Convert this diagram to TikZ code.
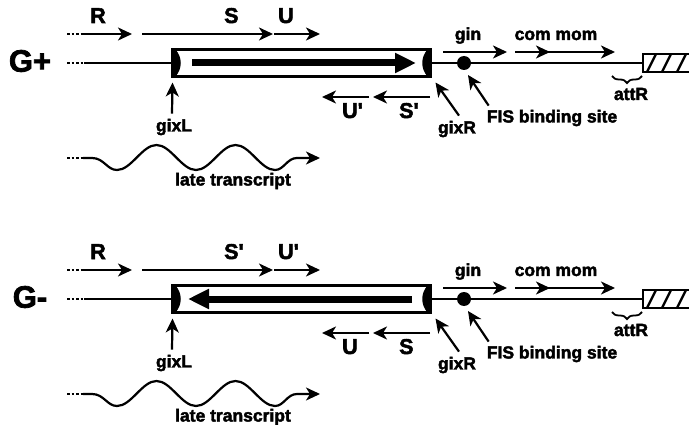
\documentclass[tikz,border=0pt]{standalone}
\usepackage{fontspec}
\setmainfont{Liberation Sans}[BoldFeatures={FakeBold=2.4}]
\usetikzlibrary{arrows.meta,decorations.pathreplacing}

\tikzset{
  tip/.tip={Stealth[length=14pt,width=13pt,inset=4pt]},
  dna/.style={line width=2.8pt},
  dnadots/.style={line width=2.8pt, dash pattern=on 2.5pt off 2pt},
  orf/.style={line width=2.2pt, -tip},
  orfdots/.style={line width=2.2pt, dash pattern=on 2.5pt off 2pt},
  pointer/.style={line width=2.2pt, -tip},
  txt/.style={font=\bfseries\fontsize{17.5}{20}\selectfont, inner sep=0pt},
  seglabel/.style={font=\bfseries\fontsize{21.5}{22}\selectfont, inner sep=0pt},
  formlabel/.style={font=\bfseries\fontsize{31}{32}\selectfont, inner sep=0pt},
  invbox/.style={draw, line width=2.3pt, minimum width=258pt, minimum height=27pt,
                 inner sep=0pt, outer sep=0pt},
  bigarrow/.style={line width=7pt, -{Triangle[length=21pt,width=19pt]}},
  wave/.style={line width=2.2pt},
  fisdot/.style={circle, fill, minimum size=14pt, inner sep=0pt, outer sep=0pt},
}

% one orientation of the G segment
% #1 form, #2 #3 upper segment labels, #4 #5 lower segment labels,
% #6 tail x and #7 head x of the inverted-segment arrow
\newcommand\gsegmentmap[7]{%
  \node[formlabel] (form) at (30,61) {#1};
  % backbone
  \node[invbox] (box) at (301.5,63) {};
  \node[fisdot] (fis) at (464,63) {};
  \coordinate (dotsL) at (67,63);
  \coordinate (solidL) at (84,63);
  \coordinate (hatchL) at (643,63);
  \coordinate (hatchNW) at (643,54);
  \coordinate (hatchSW) at (643,72);
  \draw[dnadots] (dotsL) -- (solidL);
  \draw[dna] (solidL) -- (box.west);
  \draw[dna] (box.east) -- (hatchL);
  % hatched prophage end
  \draw[line width=2.3pt] (690,54) -- (hatchNW) -- (hatchSW) -- (690,72);
  \draw[line width=2.3pt] (647,72) -- (656,54) (662,72) -- (671,54) (677,72) -- (686,54);
  % gix crossover sites at both ends of the invertible segment
  \fill (box.north west) -- ([xshift=3pt]box.north west)
     .. controls ([xshift=10pt,yshift=-8pt]box.north west) and ([xshift=10pt,yshift=8pt]box.south west)
     .. ([xshift=3pt]box.south west) -- (box.south west) -- cycle;
  \fill (box.north east) -- ([xshift=-3pt]box.north east)
     .. controls ([xshift=-10pt,yshift=-8pt]box.north east) and ([xshift=-10pt,yshift=8pt]box.south east)
     .. ([xshift=-3pt]box.south east) -- (box.south east) -- cycle;
  % orientation of the invertible segment
  \coordinate (invtail) at (#6,63);
  \coordinate (invhead) at (#7,63);
  \draw[bigarrow] (invtail) -- (invhead);
  % open reading frames above the line
  \coordinate (rA) at (67,34);
  \coordinate (rB) at (82,34);
  \coordinate (rC) at (132,34);
  \coordinate (sA) at (142,34);
  \coordinate (sB) at (273,34);
  \coordinate (uA) at (274,34);
  \coordinate (uB) at (320,34);
  \draw[orfdots] (rA) -- (rB);
  \draw[orf] (rB) -- (rC);
  \draw[orf] (sA) -- (sB);
  \draw[orf] (uA) -- (uB);
  \node[seglabel, anchor=base] (Rlab) at (98,23) {R};
  \node[seglabel, anchor=base west] (up1) at (224,23) {#2};
  \node[seglabel, anchor=base west] (up2) at (278,23) {#3};
  % reading frames in the opposite orientation
  \coordinate (lsA) at (430,97);
  \coordinate (lsB) at (373,97);
  \coordinate (luA) at (369,97);
  \coordinate (luB) at (322,97);
  \draw[orf] (lsA) -- (lsB);
  \draw[orf] (luA) -- (luB);
  \node[seglabel, anchor=base west] (low1) at (342,118) {#4};
  \node[seglabel, anchor=base west] (low2) at (399,118) {#5};
  % gin and com mom
  \coordinate (ginA) at (443,52);
  \coordinate (ginB) at (507,52);
  \coordinate (cmA) at (515,52);
  \coordinate (cmM) at (550,52);
  \coordinate (cmN) at (544,52);
  \coordinate (cmB) at (615,52);
  \draw[orf] (ginA) -- (ginB);
  \draw[orf] (cmA) -- (cmM);
  \draw[orf] (cmN) -- (cmB);
  \node[txt, anchor=base] (gin) at (468,40) {gin};
  \node[txt, anchor=base] (commom) at (556,40) {com mom};
  % attR
  \coordinate (attA) at (612,76);
  \coordinate (attB) at (642,76);
  \draw[line width=1.8pt, decorate, decoration={brace, amplitude=7pt}] (attB) -- (attA);
  \node[txt, anchor=base] (attR) at (631,100) {attR};
  % site labels with pointers
  \node[txt] (gixL) at (174,127) {gixL};
  \node[txt] (gixR) at (457,129) {gixR};
  \node[txt] (fislab) at (552,118) {FIS binding site};
  \draw[pointer] ([xshift=-2pt,yshift=5pt]gixL.north) -- ([yshift=-6pt]box.south west);
  \draw[pointer] ([xshift=2pt,yshift=5pt]gixR.north) -- ([xshift=5pt,yshift=-6pt]box.south east);
  \draw[pointer] ([xshift=2pt,yshift=4pt]fislab.north west) -- ([xshift=4pt,yshift=-12pt]fis.center);
  % late transcript
  \coordinate (wA) at (67,158);
  \coordinate (wB) at (83,158);
  \coordinate (wC) at (320,158);
  \draw[orfdots] (wA) -- (wB);
  \draw[wave, -tip] (wB) -- (92,158)
     .. controls (104,158) and (107,170) .. (117,170)
     cos (136.75,157.5) sin (156.5,145) cos (176.25,157.5) sin (196,170)
     cos (215.75,157.5) sin (235.5,145) cos (255.25,157.5) sin (275,170)
     .. controls (284,170) and (287,158) .. (297,158) -- (wC);
  \node[txt] (late) at (233,181) {late transcript};
}

\begin{document}
\begin{tikzpicture}[x=1pt, y=-1pt]
  \useasboundingbox (0,0) rectangle (689,425);
  \clip (0,0) rectangle (689,425);
  \begin{scope}[name prefix=plus-]
    \gsegmentmap{G+}{S}{U}{U\textquotesingle}{S\textquotesingle}{192}{416}
  \end{scope}
  \begin{scope}[yshift=-236pt, name prefix=minus-]
    \gsegmentmap{G-}{S\textquotesingle}{U\textquotesingle}{U}{S}{412}{188}
  \end{scope}
\end{tikzpicture}
\end{document}
